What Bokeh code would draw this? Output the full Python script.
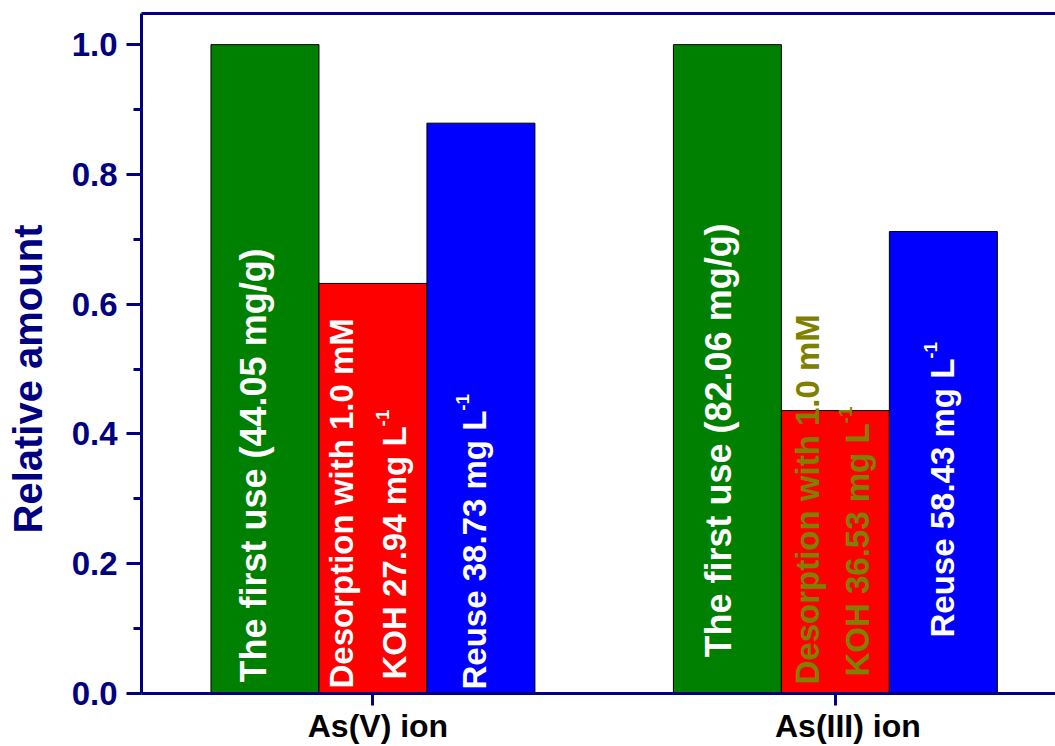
import math

from bokeh.core.properties import value
from bokeh.embed import file_html
from bokeh.models import ColumnDataSource, FixedTicker, LinearAxis, Range1d, Title
from bokeh.plotting import figure
from bokeh.resources import INLINE

# ---- data -------------------------------------------------------------
groups = ["As(V) ion", "As(III) ion"]
first_use = [1.0, 1.0]          # relative amount, first adsorption
desorption = [0.632, 0.436]     # relative amount, desorbed with 1.0 mM KOH
reuse = [0.879, 0.712]          # relative amount, second adsorption
first_use_capacity = ["44.05", "82.06"]   # mg/g
desorbed_conc = ["27.94", "36.53"]        # mg L-1
reuse_conc = ["38.73", "58.43"]           # mg L-1
y_ticks = [0.0, 0.2, 0.4, 0.6, 0.8, 1.0]

# ---- style ------------------------------------------------------------
NAVY = "#000080"
FONT = "Liberation Sans"
GREEN, RED, BLUE = "#008000", "#FF0000", "#0000FF"
OLIVE = "#808000"
BAR_W = 0.2335
X0, X1 = 0.4995, 2.476
PX_PER_UNIT = 462.5          # 914 px frame / (X1 - X0)

p = figure(
    width=1055, height=746,
    x_range=Range1d(X0, X1), y_range=Range1d(0.0, 1.048),
    output_backend="svg", toolbar_location=None,
    min_border_left=141, min_border_right=0,
    min_border_top=13, min_border_bottom=52,
)
p.outline_line_color = None
p.xgrid.visible = False
p.ygrid.visible = False
p.background_fill_color = "white"
p.border_fill_color = "white"

pos = [i + 1 for i in range(len(groups))]

# ---- bars -------------------------------------------------------------
for offset, vals, color in ((-BAR_W, first_use, GREEN), (0.0, desorption, RED), (BAR_W, reuse, BLUE)):
    p.vbar(x=[x + offset for x in pos], top=vals, width=BAR_W,
           fill_color=color, line_color="black", line_width=1)

# ---- in-bar labels (rotated) ------------------------------------------
# Arial/Liberation Sans Bold advance widths (1/1000 em), used to place superscripts
ADV = {' ': 278, '(': 333, ')': 333, '-': 333, '.': 278, '/': 278,
       'D': 722, 'H': 722, 'K': 722, 'L': 611, 'M': 833, 'O': 778, 'R': 722, 'T': 611,
       'e': 556, 'f': 333, 'g': 611, 'h': 611, 'i': 278, 'm': 889, 'n': 611, 'o': 611,
       'p': 611, 'r': 389, 's': 556, 't': 333, 'u': 611, 'w': 778}


def text_width(s, size):
    return sum(ADV.get(c, 556) for c in s) * size / 1000.0


BASE_SHIFT = 0.4   # rotated text sits this fraction of its size right of the anchor
SUP_SIZE = 19

labels = []  # (x, text, color, size, baseline px, start height px, superscript)
for i, x in enumerate(pos):
    labels.append((x - BAR_W, f"The first use ({first_use_capacity[i]} mg/g)", "white", 36, [3, 5][i], [11, 36][i], False))
    line_color = "white" if i == 0 else OLIVE
    labels.append((x, "Desorption with 1.0 mM", line_color, 33, [-18, -15][i], [5, 9][i], False))
    labels.append((x, f"KOH {desorbed_conc[i]} mg L", line_color, 33, [35, 35][i], [14, 17][i], True))
    labels.append((x + BAR_W, f"Reuse {reuse_conc[i]} mg L", "white", 33, [7, 12][i], [4, 56][i], True))

src = ColumnDataSource(dict(
    x=[l[0] for l in labels], y=[0.0] * len(labels), text=[l[1] for l in labels],
    color=[l[2] for l in labels], size=[f"{l[3]}px" for l in labels],
    xo=[l[4] - BASE_SHIFT * l[3] for l in labels], yo=[-l[5] for l in labels],
))
p.text(x="x", y="y", text="text", source=src, angle=math.pi / 2,
       x_offset="xo", y_offset="yo", text_color="color", text_font_size="size",
       text_font=value(FONT), text_font_style="bold",
       text_align="left", text_baseline="alphabetic")

# superscript "-1" after each "mg L"
sup = [l for l in labels if l[6]]
sup_src = ColumnDataSource(dict(
    x=[l[0] for l in sup], y=[0.0] * len(sup), text=["-1"] * len(sup),
    color=[l[2] for l in sup],
    xo=[l[4] - 0.53 * l[3] - BASE_SHIFT * SUP_SIZE for l in sup],
    yo=[-(l[5] + text_width(l[1], l[3])) for l in sup],
))
p.text(x="x", y="y", text="text", source=sup_src, angle=math.pi / 2,
       x_offset="xo", y_offset="yo", text_color="color", text_font_size=f"{SUP_SIZE}px",
       text_font=value(FONT), text_font_style="bold",
       text_align="left", text_baseline="alphabetic")

# ---- axes -------------------------------------------------------------
# bottom axis: line and category ticks only
xa = p.xaxis[0]
xa.ticker = FixedTicker(ticks=pos)
xa.major_label_overrides = {x: "" for x in pos}
xa.major_label_text_font_size = "0px"
xa.major_tick_in = 0
xa.major_tick_out = 12
xa.major_label_standoff = 0

# category names, set slightly right of their ticks
label_shift_px = [5, 12.5]
name_pos = [round(x + s / PX_PER_UNIT, 4) for x, s in zip(pos, label_shift_px)]
names = LinearAxis(ticker=FixedTicker(ticks=name_pos),
                   major_label_overrides={x: g for x, g in zip(name_pos, groups)},
                   axis_line_color=None, major_tick_line_color=None, minor_tick_line_color=None,
                   major_tick_in=0, major_tick_out=0, major_label_standoff=2,
                   major_label_text_font=FONT, major_label_text_font_style="bold",
                   major_label_text_font_size="32px", major_label_text_color="black")
p.add_layout(names, "below")

ya = p.yaxis[0]
ya.ticker = FixedTicker(ticks=y_ticks, minor_ticks=[0.1, 0.3, 0.5, 0.7, 0.9])
ya.major_label_overrides = {t: f"{t:.1f}" for t in y_ticks}
ya.major_tick_in = 0
ya.major_tick_out = 15
ya.minor_tick_in = 0
ya.minor_tick_out = 8
ya.major_label_standoff = 9
ya.major_label_text_font = FONT
ya.major_label_text_font_style = "bold"
ya.major_label_text_font_size = "33px"
ya.major_label_text_color = NAVY
# blank axis label used only as a spacer before the title
ya.axis_label = " "
ya.axis_label_text_font_size = "1px"
ya.axis_label_standoff = 12

for ax in (xa, ya):
    ax.axis_line_color = NAVY
    ax.axis_line_width = 3
    ax.major_tick_line_color = NAVY
    ax.major_tick_line_width = 3
    ax.minor_tick_line_width = 3
xa.minor_tick_line_color = None
ya.minor_tick_line_color = NAVY

top = LinearAxis(ticker=FixedTicker(ticks=[]), axis_line_color=NAVY, axis_line_width=3,
                 major_tick_line_color=None, minor_tick_line_color=None,
                 major_label_text_font_size="0px", major_label_standoff=0)
p.add_layout(top, "above")

# y-axis title, anchored at its lower end
p.add_layout(Title(text="Relative amount", align="left", offset=160, standoff=6,
                   text_font=FONT, text_font_style="bold",
                   text_font_size="40px", text_color=NAVY), "left")

open("out.html", "w").write(file_html(p, INLINE))
